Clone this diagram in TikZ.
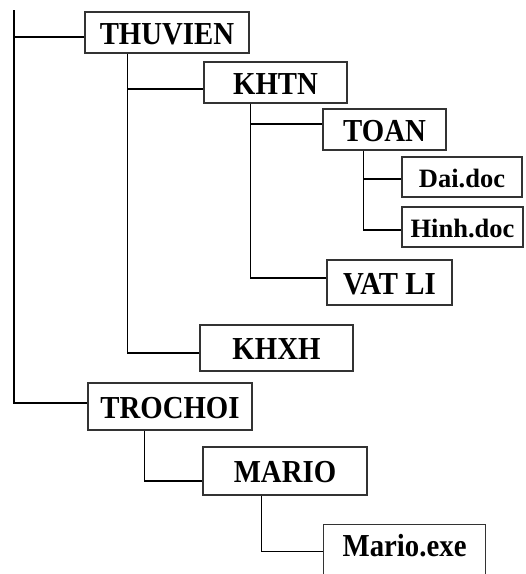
\documentclass[tikz,border=0pt]{standalone}
\usepackage{fontspec}
\setmainfont{Liberation Serif}[FakeStretch=0.9]
\newfontfamily\filefont{Liberation Serif}
\usepackage{tikz}

\tikzset{
	folder/.style={draw=black!80, line width=1.1pt, inner xsep=2pt, inner ysep=3pt,
		text height=23pt, text depth=0pt,
		font=\fontsize{32}{32}\selectfont\bfseries},
	file/.style={folder, text height=20pt,
		font=\filefont\fontsize{26.5}{26.5}\selectfont\bfseries},
	link/.style={draw=black, line width=1.4pt},
}

\begin{document}
\begin{tikzpicture}[x=1pt,y=-1pt]
	\useasboundingbox (0,0) rectangle (526,574);

	% folders and files
	\node[folder, minimum width=164pt, minimum height=41pt] (thuvien) at (167,32.5) {THUVIEN};
	\node[folder, minimum width=143pt, minimum height=41pt] (khtn) at (275.5,82.5) {KHTN};
	\node[folder, minimum width=123pt, minimum height=41pt] (toan) at (384.5,129.5) {TOAN};
	\node[file, minimum width=120pt, minimum height=40pt] (dai) at (462,177) {Dai.doc};
	\node[file, minimum width=121pt, minimum height=40pt] (hinh) at (462.5,227) {Hinh.doc};
	\node[folder, minimum width=125pt, minimum height=45pt] (vatli) at (389.5,282.5) {VAT LI};
	\node[folder, minimum width=153pt, minimum height=46pt] (khxh) at (276.5,348) {KHXH};
	\node[folder, minimum width=164pt, minimum height=47pt] (trochoi) at (170,406.5) {TROCHOI};
	\node[folder, minimum width=164pt, minimum height=48pt] (mario) at (285,471) {MARIO};
	\node[folder, anchor=north west, text depth=15pt, minimum width=162pt, minimum height=56pt] (mexe) at (323,524) {Mario.exe};

	% root
	\coordinate (top) at (14,10);
	\draw[link] (top) |- ([yshift=-4.5pt]thuvien.west);
	\draw[link] (top) |- ([yshift=3.5pt]trochoi.west);

	% THUVIEN
	\coordinate (tv) at ([xshift=43pt]thuvien.south west);
	\draw[link] (tv) |- ([yshift=-6.5pt]khtn.west);
	\draw[link] (tv) |- ([yshift=-5pt]khxh.west);

	% KHTN
	\coordinate (kn) at ([xshift=47pt]khtn.south west);
	\draw[link] (kn) |- ([yshift=5.5pt]toan.west);
	\draw[link] (kn) |- ([yshift=4.5pt]vatli.west);

	% TOAN
	\coordinate (to) at ([xshift=41pt]toan.south west);
	\draw[link] (to) |- ([yshift=-2pt]dai.west);
	\draw[link] (to) |- ([yshift=-3pt]hinh.west);

	% TROCHOI
	\coordinate (tc) at ([xshift=57pt]trochoi.south west);
	\draw[link] (tc) |- ([yshift=-10pt]mario.west);

	% MARIO
	\coordinate (ma) at ([xshift=59pt]mario.south west);
	\draw[link] (ma) |- ([yshift=1pt]mexe.west);
\end{tikzpicture}
\end{document}
